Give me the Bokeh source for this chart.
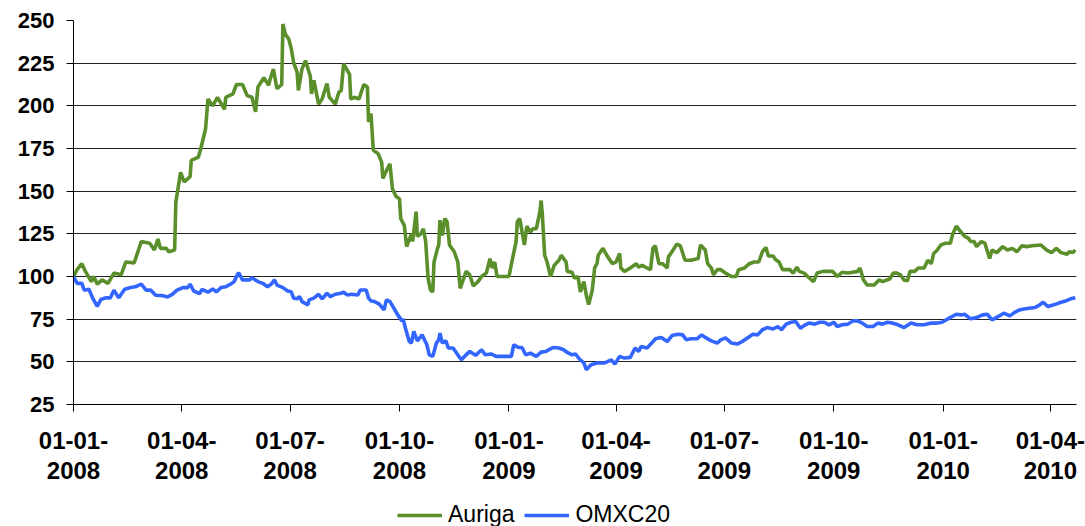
import pandas as pd
from bokeh.plotting import figure
from bokeh.layouts import column
from bokeh.models import (Range1d, FixedTicker, CustomJSTickFormatter, Legend,
                          LegendItem)
from bokeh.embed import file_html
from bokeh.resources import INLINE

# ---------------- data ----------------
start_date = "2008-01-01"
end_date = "2010-04-23"
tick_dates = ["2008-01-01", "2008-04-01", "2008-07-01", "2008-10-01",
              "2009-01-01", "2009-04-01", "2009-07-01", "2009-10-01",
              "2010-01-01", "2010-04-01"]
y_ticks = [25, 50, 75, 100, 125, 150, 175, 200, 225, 250]

# days after start_date, index value
auriga_day = [0, 3, 7, 10, 15, 17, 20, 24, 29, 34, 40, 44, 51, 57, 64, 68, 71, 73, 78, 80,
              85, 86, 90, 93, 98, 99, 105, 107, 111, 113, 117, 121, 127, 128, 134, 137, 142,
              146, 150, 153, 155, 160, 164, 165, 168, 171, 175, 176, 178, 181, 183, 185, 188,
              189, 192, 195, 199, 200, 202, 206, 209, 213, 215, 220, 223, 225, 227, 232, 233,
              236, 240, 244, 247, 248, 250, 252, 256, 259, 260, 263, 266, 268, 271, 274, 275,
              278, 280, 284, 285, 288, 289, 292, 294, 296, 298, 300, 302, 303, 306, 307, 308,
              310, 312, 314, 316, 320, 323, 325, 330, 333, 336, 340, 343, 347, 350, 352, 354,
              356, 366, 369, 372, 373, 375, 379, 381, 384, 386, 389, 392, 393, 394, 396, 398,
              401, 404, 408, 410, 414, 415, 419, 421, 424, 426, 429, 431, 433, 436, 438, 440,
              441, 445, 447, 449, 453, 456, 459, 460, 463, 468, 473, 475, 478, 482, 485, 487,
              489, 492, 495, 499, 500, 503, 507, 510, 514, 519, 525, 527, 531, 533, 536, 538,
              541, 544, 548, 553, 557, 559, 564, 568, 572, 576, 579, 582, 584, 588, 590, 593,
              596, 602, 605, 608, 610, 614, 617, 622, 625, 630, 638, 642, 646, 651, 655, 659,
              661, 664, 667, 673, 677, 680, 686, 689, 692, 695, 698, 701, 703, 707, 710, 715,
              718, 721, 723, 726, 729, 733, 737, 739, 742, 746, 749, 752, 754, 757, 759, 763,
              766, 770, 772, 776, 781, 785, 789, 793, 797, 801, 806, 813, 818, 822, 826, 830,
              835, 837, 840, 842]
auriga_value = [100, 104, 107.5, 103, 97, 100, 95.5, 98, 96, 102, 101, 108.5, 108, 120.5, 119.5,
                115.5, 122, 116.5, 116.5, 114.5, 115.5, 143.5, 161, 155.5, 158.5, 168, 170, 175,
                186.5, 204, 200, 205, 198, 205, 207, 212.5, 212.5, 206, 205, 196.5, 211, 216.5,
                212, 215, 221.5, 210, 212.5, 248, 242, 239, 233.5, 225.5, 219.5, 209, 221.5,
                226.5, 217.5, 207, 215, 201, 204, 213, 205, 201, 208, 209, 224.5, 218.5, 204,
                205, 204, 212.5, 211, 190.5, 195.5, 174, 172, 167, 157.5, 162, 166, 151.5, 147,
                145.5, 134, 130, 117.5, 125, 120.5, 138, 123.5, 125, 128, 120.5, 99, 92, 91,
                108.5, 116.5, 118.5, 133, 124, 134, 132, 118.5, 114.5, 108.5, 93, 103, 101, 94.5,
                97, 100, 102, 110.5, 105, 108.5, 100, 100, 110.5, 120.5, 132, 134, 118.5, 129.5,
                126, 128, 128, 138, 144.5, 137, 112.5, 108.5, 100, 106.5, 109.5, 112.5, 108.5,
                103, 102.5, 99, 100, 91, 97, 89, 83.5, 92, 105, 107.5, 112.5, 116.5, 114, 111.5,
                107.5, 108.5, 113.5, 105, 103, 105, 107.5, 105.5, 106.5, 105, 104, 116.5, 118,
                107.5, 107.5, 105, 111.5, 114.5, 119, 118, 109.5, 109.5, 110.5, 118.5, 115.5,
                107.5, 105, 101, 104, 104, 102, 100, 100, 104, 105, 107.5, 108.5, 108.5, 114.5,
                117, 112, 112, 110, 108.5, 104, 104, 102, 105.5, 103, 102, 100, 97, 102, 103,
                103, 100, 102.5, 102, 102.5, 103, 105, 98, 95, 95, 98, 97, 98.5, 102, 102, 101,
                98, 97.5, 103, 103, 105, 105, 109.5, 107.5, 113.5, 115.5, 118.5, 119.5, 119.5,
                125, 129.5, 126, 123.5, 122.5, 120.5, 120.5, 117.5, 120.5, 119.5, 110.5, 115.5,
                114, 117.5, 115.5, 116.5, 114.5, 118, 117.5, 118, 118.5, 115.5, 114, 116.5, 114,
                113, 114.5, 114, 115.5]

omxc20_day = [0, 3, 7, 9, 13, 16, 20, 23, 27, 31, 34, 38, 43, 48, 52, 57, 61, 65, 69, 75, 79,
              83, 87, 92, 96, 98, 101, 106, 108, 113, 117, 120, 124, 128, 132, 135, 138, 139,
              142, 148, 150, 155, 159, 163, 166, 169, 171, 176, 180, 183, 185, 188, 190, 192,
              197, 198, 202, 206, 209, 213, 216, 220, 225, 227, 230, 234, 239, 241, 246, 248,
              250, 253, 257, 261, 263, 266, 269, 272, 276, 277, 279, 282, 284, 286, 289, 293,
              297, 299, 302, 305, 307, 308, 310, 313, 315, 319, 323, 326, 330, 333, 338, 343,
              346, 351, 355, 361, 368, 370, 374, 377, 380, 384, 389, 393, 397, 403, 408, 412,
              415, 419, 422, 425, 429, 431, 435, 440, 446, 452, 455, 459, 463, 468, 472, 475,
              477, 482, 486, 489, 494, 499, 503, 508, 512, 515, 519, 524, 528, 531, 536, 541,
              544, 548, 553, 558, 562, 567, 571, 575, 579, 583, 588, 592, 595, 599, 603, 607,
              611, 614, 618, 623, 627, 631, 635, 639, 642, 646, 651, 655, 659, 663, 667, 672,
              676, 680, 684, 688, 693, 698, 704, 709, 715, 721, 726, 730, 736, 742, 746, 749,
              754, 759, 764, 768, 772, 777, 782, 787, 791, 795, 799, 803, 808, 811, 815, 819,
              824, 830, 834, 838, 842]
omxc20_value = [100, 96, 96, 92, 92.5, 87.5, 82.5, 86.5, 87.5, 87.5, 92, 87.5, 92.5, 93.5, 94,
                95.5, 92, 92, 89, 88.8, 88, 89.5, 92, 93.5, 93.5, 95.5, 91.5, 90, 92.5, 90.8,
                92.7, 91, 93.5, 94, 95.5, 97, 101.5, 102, 98, 98, 99.3, 97, 96, 94, 95.4, 98, 95,
                93.5, 91.5, 91, 87.3, 87, 88.2, 85.3, 83.4, 86.3, 87.3, 89.6, 86.9, 90.2, 88.2,
                89.6, 90.2, 90.8, 89.2, 89.6, 89.2, 92.1, 92.1, 87.3, 85.7, 85.3, 83.8, 80.4,
                86.3, 85.3, 81.8, 78.1, 74, 75.2, 69.7, 62.3, 61, 67.8, 62.3, 65.8, 60, 54.1,
                53.2, 61, 62.9, 66.8, 61, 62.3, 58.1, 58.1, 54.1, 51.2, 54.1, 56.1, 53.8, 57.1,
                54.1, 54.6, 53.2, 53.2, 53.2, 60, 58.4, 58.4, 54.1, 55.1, 53.2, 55.7, 56.1, 58.4,
                58.1, 57.1, 55.5, 54.1, 54.6, 51.8, 49.3, 45.4, 48.3, 49.3, 49.3, 51.2, 48.7,
                53.2, 52.2, 52.6, 58.1, 56.1, 59, 58.1, 61, 63.5, 64.3, 61.9, 65.4, 66.2, 65.8,
                62.9, 63.5, 63.5, 65.8, 64.3, 62.3, 61, 62.9, 64, 61, 60.4, 61.9, 64.3, 66.2,
                65.8, 68.8, 70.1, 69.3, 70.7, 68.8, 72.1, 73.2, 73.6, 69.7, 71.2, 72.7, 72.1,
                73.2, 73.2, 71.7, 73.2, 70.7, 71.7, 72.1, 74, 74, 72.7, 70.7, 70.7, 72.7, 72.1,
                73.2, 72.7, 71.7, 70.1, 72.7, 71.7, 71.7, 72.7, 72.7, 73.2, 75.6, 77.9, 77.5,
                77.9, 75.2, 75.9, 77.5, 77.9, 74.6, 76.5, 78.5, 76.9, 79, 80.4, 81, 81.4, 81.8,
                82.9, 84.9, 82.4, 83.4, 84.9, 85.7, 86.9, 87.6]

series_names = ["Auriga", "OMXC20"]
series_colors = ["#5A8F2B", "#3366FF"]

# ---------------- build ----------------
t0 = pd.Timestamp(start_date)
auriga_x = t0 + pd.to_timedelta(auriga_day, unit="D")
omxc20_x = t0 + pd.to_timedelta(omxc20_day, unit="D")
tick_ms = [pd.Timestamp(d).value // 10**6 for d in tick_dates]

FONT = "Liberation Sans"
LW = 3.6

p = figure(width=1085, height=496, x_axis_type="datetime",
           x_range=Range1d(t0, pd.Timestamp(end_date)),
           y_range=Range1d(y_ticks[0], y_ticks[-1]),
           output_backend="svg", toolbar_location=None,
           min_border_left=73, min_border_right=9, min_border_top=20,
           min_border_bottom=92)
p.outline_line_color = None
p.background_fill_color = "white"
p.border_fill_color = "white"

p.line(auriga_x, auriga_value, line_color=series_colors[0], line_width=LW)
p.line(omxc20_x, omxc20_value, line_color=series_colors[1], line_width=LW)

xa = p.xaxis[0]
xa.ticker = FixedTicker(ticks=tick_ms)
xa.formatter = CustomJSTickFormatter(code="""
const d = new Date(tick);
const dd = String(d.getUTCDate()).padStart(2, '0');
const mm = String(d.getUTCMonth() + 1).padStart(2, '0');
return dd + '-' + mm + '-\\n' + d.getUTCFullYear();
""")
ya = p.yaxis[0]
ya.ticker = FixedTicker(ticks=y_ticks)

for ax in (xa, ya):
    ax.axis_line_color = "black"
    ax.axis_line_width = 1
    ax.major_tick_line_color = "black"
    ax.major_tick_in = 0
    ax.major_tick_out = 7
    ax.minor_tick_out = 0
    ax.minor_tick_in = 0
    ax.major_label_text_font = FONT
    ax.major_label_text_font_style = "bold"
    ax.major_label_text_color = "black"
xa.major_label_text_font_size = "24px"
ya.major_label_text_font_size = "22px"
xa.major_label_standoff = 15
xa.major_label_text_line_height = 1.12
ya.major_label_standoff = 12

p.xgrid.visible = False
p.ygrid.ticker = FixedTicker(ticks=y_ticks)
p.ygrid.grid_line_color = "#222222"
p.ygrid.grid_line_width = 1

# legend strip below the chart (keys only, nothing plotted in its frame)
lg = figure(width=1085, height=30, x_range=Range1d(0, 1), y_range=Range1d(0, 1),
            output_backend="svg", toolbar_location=None,
            x_axis_location=None, y_axis_location=None,
            min_border_left=0, min_border_right=0, min_border_top=0,
            min_border_bottom=0)
lg.outline_line_color = None
lg.xgrid.visible = False
lg.ygrid.visible = False
nan = float("nan")
k1 = lg.line(x=[nan], y=[nan], line_color=series_colors[0], line_width=LW)
k2 = lg.line(x=[nan], y=[nan], line_color=series_colors[1], line_width=LW)
legend = Legend(items=[LegendItem(label=series_names[0], renderers=[k1]),
                       LegendItem(label=series_names[1], renderers=[k2])],
                orientation="horizontal", location=(324, -2),
                glyph_width=45, glyph_height=22, label_standoff=6, spacing=10,
                padding=0, margin=0, border_line_color=None,
                background_fill_alpha=0,
                label_text_font=FONT, label_text_font_size="23px",
                label_text_color="black")
lg.add_layout(legend, "center")

page = column(p, lg, spacing=0)
open("out.html", "w").write(file_html(page, INLINE))
